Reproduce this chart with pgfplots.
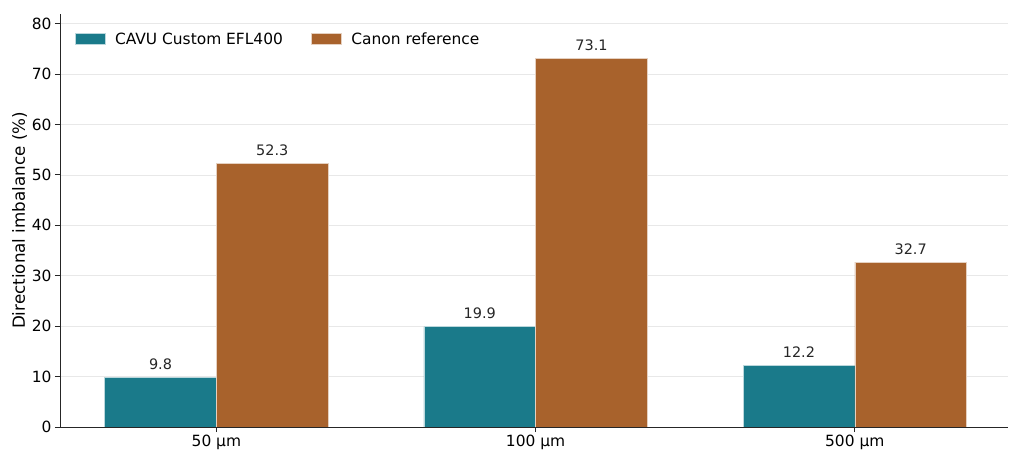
\documentclass[border=0pt]{standalone}
\usepackage{fontspec}
\setmainfont{DejaVu Sans}
\usepackage{pgfplots}
\pgfplotsset{compat=1.18}
\definecolor{cavu}{HTML}{1A7A8A}
\definecolor{canon}{HTML}{A8622C}
\definecolor{gridc}{HTML}{E8E8E8}
\begin{document}
\begin{tikzpicture}
\begin{axis}[
    scale only axis,
    width=948bp, height=413bp,
    ybar=0pt, bar width=0.35,
    xmin=-0.49, xmax=2.48,
    ymin=0, ymax=81.9,
    xtick=data,
    xticklabels={50 µm, 100 µm, 500 µm},
    ytick={0,10,...,80},
    axis x line*=bottom, axis y line*=left,
    axis line style={line width=0.9pt, black!85},
    tick style={line width=0.9pt, black!85},
    major tick length=5bp,
    tick align=outside,
    ymajorgrids, grid style={gridc, line width=0.6pt},
    ylabel={Directional imbalance (\%)},
    ylabel style={font=\fontsize{16.8}{20}\selectfont, yshift=-2bp},
    ticklabel style={font=\fontsize{15.5}{18}\selectfont},
    /pgf/number format/assume math mode=true,
    nodes near coords,
    nodes near coords style={font=\fontsize{14.5}{17}\selectfont, black!85, yshift=4bp},
    point meta=explicit symbolic,
    legend style={draw=none, fill=none, at={(0.012,0.965)}, anchor=north west,
        font=\fontsize{15.5}{18}\selectfont, legend columns=2,
        /tikz/every even column/.append style={column sep=26bp}},
    legend image code/.code={\draw[#1] (0bp,-5bp) rectangle (30bp,6bp); \path (38bp,0bp);},
]
\addplot[fill=cavu, draw=white!70!cavu, line width=0.5pt] coordinates {
    (0,9.8)[9.8] (1,19.9)[19.9] (2,12.2)[12.2]
};
\addlegendentry{CAVU Custom EFL400}
\addplot[fill=canon, draw=white!70!canon, line width=0.5pt] coordinates {
    (0,52.3)[52.3] (1,73.1)[73.1] (2,32.7)[32.7]
};
\addlegendentry{Canon reference}
\end{axis}
\pgfresetboundingbox
\path (current axis.south west) ++(-60bp,-42bp) rectangle ([xshift=16bp,yshift=14bp]current axis.north east);
\end{tikzpicture}
\end{document}
